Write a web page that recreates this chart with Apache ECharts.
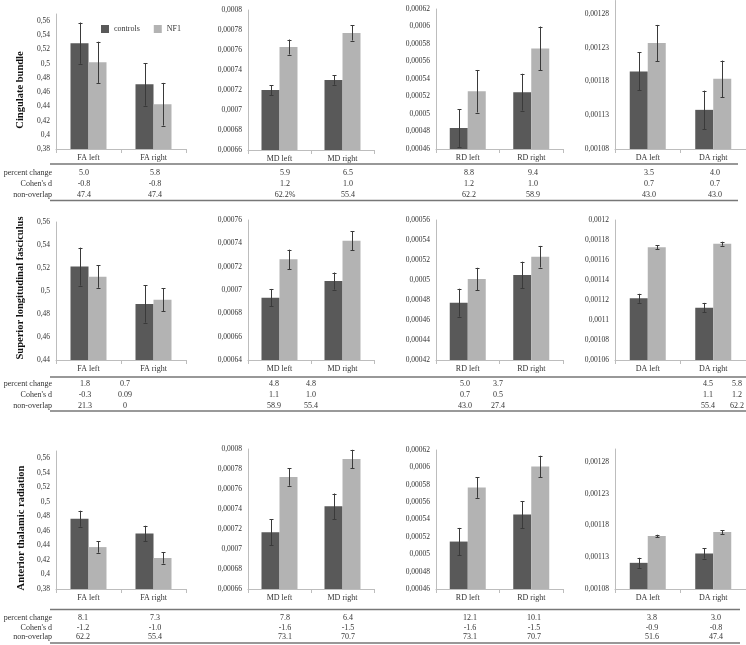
<!DOCTYPE html>
<html><head><meta charset="utf-8">
<script src="https://cdn.jsdelivr.net/npm/echarts@6/dist/echarts.min.js"></script>
<style>html,body{margin:0;padding:0;background:#fff}#c{width:746px;height:645px}</style>
</head><body><div id="c"></div>
<script>
// ---------------- DATA ----------------
const faCategories = ['FA left', 'FA right'];
const mdCategories = ['MD left', 'MD right'];
const rdCategories = ['RD left', 'RD right'];
const daCategories = ['DA left', 'DA right'];
const seriesNames = ['controls', 'NF1'];
const tractNames = ['Cingulate bundle', 'Superior longitudinal fasciculus', 'Anterior thalamic radiation'];
const tableRowLabels = ['percent change', "Cohen's d", 'non-overlap'];

// order: FA left, FA right, MD left, MD right, RD left, RD right, DA left, DA right
const cbControlsMean = [0.529, 0.471, 0.000720, 0.000730, 0.000484, 0.000525, 0.001195, 0.001138];
const cbControlsErr  = [0.029, 0.030, 0.0000050, 0.0000047, 0.0000216, 0.000021, 0.0000283, 0.0000285];
const cbNf1Mean      = [0.502, 0.443, 0.000763, 0.000777, 0.000526, 0.000575, 0.001237, 0.001184];
const cbNf1Err       = [0.029, 0.030, 0.0000075, 0.0000075, 0.0000243, 0.000025, 0.0000268, 0.000027];

const slfControlsMean = [0.5212, 0.4887, 0.0006934, 0.0007077, 0.0004773, 0.000505, 0.0011217, 0.0011123];
const slfControlsErr  = [0.0165, 0.0162, 0.0000075, 0.0000073, 0.000014, 0.0000133, 0.0000045, 0.0000048];
const slfNf1Mean      = [0.5125, 0.4925, 0.0007263, 0.0007423, 0.000501, 0.0005233, 0.0011727, 0.0011763];
const slfNf1Err       = [0.0097, 0.0100, 0.0000083, 0.0000082, 0.0000112, 0.0000108, 0.0000018, 0.0000020];

const atrControlsMean = [0.4768, 0.4564, 0.0007167, 0.0007427, 0.0005146, 0.0005457, 0.0011211, 0.0011358];
const atrControlsErr  = [0.0110, 0.0107, 0.0000130, 0.0000128, 0.0000157, 0.0000156, 0.0000079, 0.0000079];
const atrNf1Mean      = [0.4377, 0.4227, 0.000772, 0.000790, 0.0005769, 0.0006011, 0.0011632, 0.0011695];
const atrNf1Err       = [0.0077, 0.0077, 0.0000087, 0.0000092, 0.0000120, 0.0000123, 0.0000021, 0.0000029];

// value axes per panel (FA, MD, RD, DA)
const cbAxisMin  = [0.38, 0.00066, 0.00046, 0.00108];
const cbAxisMax  = [0.57, 0.0008, 0.00062, 0.0013];
const cbAxisStep = [0.02, 0.00002, 0.00002, 0.00005];
const slfAxisMin  = [0.44, 0.00064, 0.00042, 0.00106];
const slfAxisMax  = [0.56, 0.00076, 0.00056, 0.0012];
const slfAxisStep = [0.02, 0.00002, 0.00002, 0.00002];
const atrAxisMin  = [0.38, 0.00066, 0.00046, 0.00108];
const atrAxisMax  = [0.57, 0.0008, 0.00062, 0.0013];
const atrAxisStep = [0.02, 0.00002, 0.00002, 0.00005];

const cbPercentChange  = ['5.0', '5.8', '5.9', '6.5', '8.8', '9.4', '3.5', '4.0'];
const cbCohensD        = ['-0.8', '-0.8', '1.2', '1.0', '1.2', '1.0', '0.7', '0.7'];
const cbNonOverlap     = ['47.4', '47.4', '62.2%', '55.4', '62.2', '58.9', '43.0', '43.0'];
const slfPercentChange = ['1.8', '0.7', '4.8', '4.8', '5.0', '3.7', '4.5', '5.8'];
const slfCohensD       = ['-0.3', '0.09', '1.1', '1.0', '0.7', '0.5', '1.1', '1.2'];
const slfNonOverlap    = ['21.3', '0', '58.9', '55.4', '43.0', '27.4', '55.4', '62.2'];
const atrPercentChange = ['8.1', '7.3', '7.8', '6.4', '12.1', '10.1', '3.8', '3.0'];
const atrCohensD       = ['-1.2', '-1.0', '-1.6', '-1.5', '-1.6', '-1.5', '-0.9', '-0.8'];
const atrNonOverlap    = ['62.2', '55.4', '73.1', '70.7', '73.1', '70.7', '51.6', '47.4'];

// ---------------- LAYOUT ----------------
const FONT = 'Liberation Serif';
const BAR_W = 18;
const C_CTRL = '#595959', C_NF1 = '#b3b3b3', C_ERR = '#3a3a3a', C_AXIS = '#bdbdbd', C_TXT = '#333';
const colLeft  = [56, 248, 436, 615];
const colWidth = [130, 126, 127, 131];
const gridTop    = [[14, 10, 9, 0.5], [222, 220, 220, 220], [451, 449, 450, 449]];
const gridBottom = [[149, 150, 149, 149], [360, 360, 360, 360], [589, 589, 589, 589]];
const titlePos = [[20, 90], [20, 288], [21, 528]];
const tableY = [[164, 173, 184, 195, 200.5], [377, 383.5, 394.5, 405.5, 411], [609.5, 618, 628, 637, 643]];
const tableRight = [738, 746, 740];
const tableColX = [
  [84, 155, 285, 348, 469, 533, 649, 715],
  [85, 125, 274, 311, 465, 498, 708, 737],
  [83, 155, 285, 348, 470, 534, 652, 716]
];

const rows = [
  {cm: cbControlsMean, ce: cbControlsErr, nm: cbNf1Mean, ne: cbNf1Err, min: cbAxisMin, max: cbAxisMax, step: cbAxisStep,
   tab: [cbPercentChange, cbCohensD, cbNonOverlap]},
  {cm: slfControlsMean, ce: slfControlsErr, nm: slfNf1Mean, ne: slfNf1Err, min: slfAxisMin, max: slfAxisMax, step: slfAxisStep,
   tab: [slfPercentChange, slfCohensD, slfNonOverlap]},
  {cm: atrControlsMean, ce: atrControlsErr, nm: atrNf1Mean, ne: atrNf1Err, min: atrAxisMin, max: atrAxisMax, step: atrAxisStep,
   tab: [atrPercentChange, atrCohensD, atrNonOverlap]}
];
const catSets = [faCategories, mdCategories, rdCategories, daCategories];

function fmtNum(v) { return String(parseFloat(v.toPrecision(8))).replace('.', ','); }
function labelFormatter(min, step) {
  return function (v) {
    const k = (v - min) / step;
    return Math.abs(k - Math.round(k)) < 1e-6 ? fmtNum(v) : '';
  };
}

const grid = [], xAxis = [], yAxis = [], series = [], graphic = [];
rows.forEach((row, r) => {
  for (let c = 0; c < 4; c++) {
    const idx = r * 4 + c;
    grid.push({left: colLeft[c], width: colWidth[c], top: gridTop[r][c], height: gridBottom[r][c] - gridTop[r][c]});
    xAxis.push({
      type: 'category', gridIndex: idx, data: catSets[c],
      axisLine: {show: true, lineStyle: {color: C_AXIS, width: 1}},
      axisTick: {show: true, length: 4, lineStyle: {color: C_AXIS}},
      axisLabel: {fontFamily: FONT, fontSize: 8, color: C_TXT, margin: 5}
    });
    yAxis.push({
      type: 'value', gridIndex: idx, min: row.min[c], max: row.max[c], interval: row.step[c] / 10,
      axisLine: {show: true, lineStyle: {color: C_AXIS, width: 1}},
      axisTick: {show: false}, splitLine: {show: false},
      axisLabel: {fontFamily: FONT, fontSize: 7.5, color: C_TXT, margin: 6,
                  formatter: labelFormatter(row.min[c], row.step[c])}
    });
    const cm = [row.cm[2 * c], row.cm[2 * c + 1]];
    const nm = [row.nm[2 * c], row.nm[2 * c + 1]];
    const ce = [row.ce[2 * c], row.ce[2 * c + 1]];
    const ne = [row.ne[2 * c], row.ne[2 * c + 1]];
    series.push({name: seriesNames[0], type: 'bar', xAxisIndex: idx, yAxisIndex: idx, data: cm,
      barWidth: BAR_W, barGap: '0%', itemStyle: {color: C_CTRL}, silent: true, animation: false});
    series.push({name: seriesNames[1], type: 'bar', xAxisIndex: idx, yAxisIndex: idx, data: nm,
      barWidth: BAR_W, barGap: '0%', itemStyle: {color: C_NF1}, silent: true, animation: false});
    const errData = [];
    for (let k = 0; k < 2; k++) {
      errData.push([k, cm[k], ce[k], 0]);
      errData.push([k, nm[k], ne[k], 1]);
    }
    series.push({
      type: 'custom', xAxisIndex: idx, yAxisIndex: idx, data: errData, z: 10, silent: true, animation: false,
      encode: {x: 0, y: 1},
      renderItem: function (params, api) {
        const k = api.value(0), m = api.value(1), e = api.value(2), g = api.value(3);
        const hi = api.coord([k, m + e]);
        const lo = api.coord([k, m - e]);
        const cx = Math.round(hi[0] + (g === 0 ? -BAR_W / 2 : BAR_W / 2)) + 0.5;
        const st = {stroke: C_ERR, lineWidth: 1};
        return {type: 'group', children: [
          {type: 'line', shape: {x1: cx, y1: hi[1], x2: cx, y2: lo[1]}, style: st},
          {type: 'line', shape: {x1: cx - 2, y1: Math.round(hi[1]) + 0.5, x2: cx + 2, y2: Math.round(hi[1]) + 0.5}, style: st},
          {type: 'line', shape: {x1: cx - 2, y1: Math.round(lo[1]) + 0.5, x2: cx + 2, y2: Math.round(lo[1]) + 0.5}, style: st}
        ]};
      }
    });
  }
  // row title
  graphic.push({type: 'text', x: titlePos[r][0], y: titlePos[r][1], rotation: Math.PI / 2,
    style: {text: tractNames[r], fontFamily: FONT, fontSize: 10.5, fontWeight: 'bold', fill: '#111',
            textAlign: 'center', textVerticalAlign: 'middle'}});
  // table
  const ty = tableY[r];
  graphic.push({type: 'line', shape: {x1: 50, y1: ty[0], x2: tableRight[r], y2: ty[0]},
    style: {stroke: r === 2 ? '#777' : '#333', lineWidth: r === 2 ? 1.6 : 1.2}});
  graphic.push({type: 'line', shape: {x1: 50, y1: ty[4], x2: tableRight[r], y2: ty[4]},
    style: {stroke: r === 2 ? '#333' : '#777', lineWidth: r === 2 ? 1.2 : 1.6}});
  for (let j = 0; j < 3; j++) {
    graphic.push({type: 'text', x: 52, y: ty[j + 1],
      style: {text: tableRowLabels[j], fontFamily: FONT, fontSize: 8, fill: C_TXT, textAlign: 'right', textVerticalAlign: 'middle'}});
    row.tab[j].forEach((t, i) => {
      graphic.push({type: 'text', x: tableColX[r][i], y: ty[j + 1],
        style: {text: t, fontFamily: FONT, fontSize: 8, fill: C_TXT, textAlign: 'center', textVerticalAlign: 'middle'}});
    });
  }
});

const chart = echarts.init(document.getElementById('c'), null, {renderer: 'canvas'});
chart.setOption({
  backgroundColor: '#fff',
  animation: false,
  legend: {left: 96, top: 20, itemWidth: 8, itemHeight: 8, itemGap: 14, icon: 'rect', selectedMode: false,
           data: seriesNames, textStyle: {fontFamily: FONT, fontSize: 8, color: C_TXT}},
  grid: grid, xAxis: xAxis, yAxis: yAxis, series: series, graphic: graphic
});
</script></body></html>
